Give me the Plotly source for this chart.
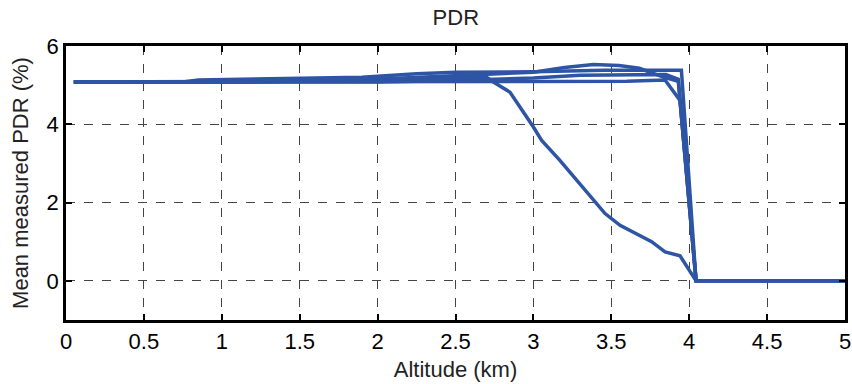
import plotly.graph_objects as go

# Altitude (km) and mean measured PDR (%) for each run
alt_a = [0.05, 0.75, 1.0, 1.5, 2.0, 2.4, 2.60, 2.70, 2.743, 2.85, 3.0, 3.053, 3.17, 3.278, 3.385,
         3.46, 3.556, 3.663, 3.759, 3.845, 3.941, 4.044, 5.0]
pdr_a = [5.08, 5.08, 5.09, 5.12, 5.15, 5.19, 5.20, 5.20, 5.08, 4.82, 3.93, 3.59, 3.08, 2.57, 2.06,
         1.72, 1.42, 1.21, 1.0, 0.74, 0.64, 0.0, 0.0]

alt_b = [0.05, 0.75, 0.85, 1.4, 1.9, 2.25, 2.5, 3.0, 3.45, 3.95, 4.044, 5.0]
pdr_b = [5.08, 5.08, 5.13, 5.16, 5.20, 5.29, 5.33, 5.34, 5.38, 5.38, 0.0, 0.0]

alt_c = [0.05, 1.2, 1.8, 2.3, 2.7, 3.0, 3.2, 3.385, 3.55, 3.68, 3.83, 3.93, 4.044, 5.0]
pdr_c = [5.08, 5.08, 5.12, 5.20, 5.27, 5.33, 5.45, 5.53, 5.50, 5.43, 5.21, 5.10, 0.0, 0.0]

alt_d = [0.05, 2.0, 2.5, 3.0, 3.3, 3.6, 3.85, 3.93, 4.044, 5.0]
pdr_d = [5.08, 5.08, 5.12, 5.18, 5.25, 5.27, 5.27, 5.15, 0.0, 0.0]

alt_e = [0.05, 3.5, 3.6, 3.845, 3.941, 4.044, 5.0]
pdr_e = [5.08, 5.08, 5.10, 5.13, 4.61, 0.0, 0.0]

x_ticks = [0, 0.5, 1, 1.5, 2, 2.5, 3, 3.5, 4, 4.5, 5]
x_tick_text = ["0", "0.5", "1", "1.5", "2", "2.5", "3", "3.5", "4", "4.5", "5"]
y_ticks = [0, 2, 4, 6]

line_color = "#2E54A6"
font_family = "Liberation Sans, Arial, sans-serif"
fs = 22

fig = go.Figure()
for xs, ys in [(alt_e, pdr_e), (alt_d, pdr_d), (alt_c, pdr_c), (alt_b, pdr_b), (alt_a, pdr_a)]:
    fig.add_trace(go.Scatter(x=xs, y=ys, mode="lines",
                             line=dict(color=line_color, width=3.5),
                             showlegend=False, hoverinfo="skip"))

axis_common = dict(
    showline=True, linecolor="black", linewidth=2.5, mirror="ticks",
    ticks="inside", ticklen=6, tickwidth=2, tickcolor="black",
    showgrid=True, gridcolor="#444444", gridwidth=1, griddash="dash",
    zeroline=False,
    tickfont=dict(family=font_family, size=fs, color="black"),
)

fig.update_layout(
    width=852, height=384,
    margin=dict(l=66, r=7, t=46, b=64, autoexpand=False),
    paper_bgcolor="white", plot_bgcolor="white",
    font=dict(family=font_family, size=fs, color="black"),
    title=dict(text="PDR", x=0.535, xanchor="center", y=1 - 17 / 384, yanchor="middle",
               yref="container", font=dict(family=font_family, size=fs, color="#222222")),
    xaxis=dict(range=[0, 5], tickvals=x_ticks, ticktext=x_tick_text,
               title=dict(text="Altitude (km)", standoff=9,
                          font=dict(family=font_family, size=fs, color="#222222")),
               **axis_common),
    yaxis=dict(range=[-1, 6], tickvals=y_ticks,
               title=dict(text="Mean measured PDR (%)", standoff=12,
                          font=dict(family=font_family, size=fs, color="#222222")),
               **axis_common),
)

fig.write_html("out.html")
